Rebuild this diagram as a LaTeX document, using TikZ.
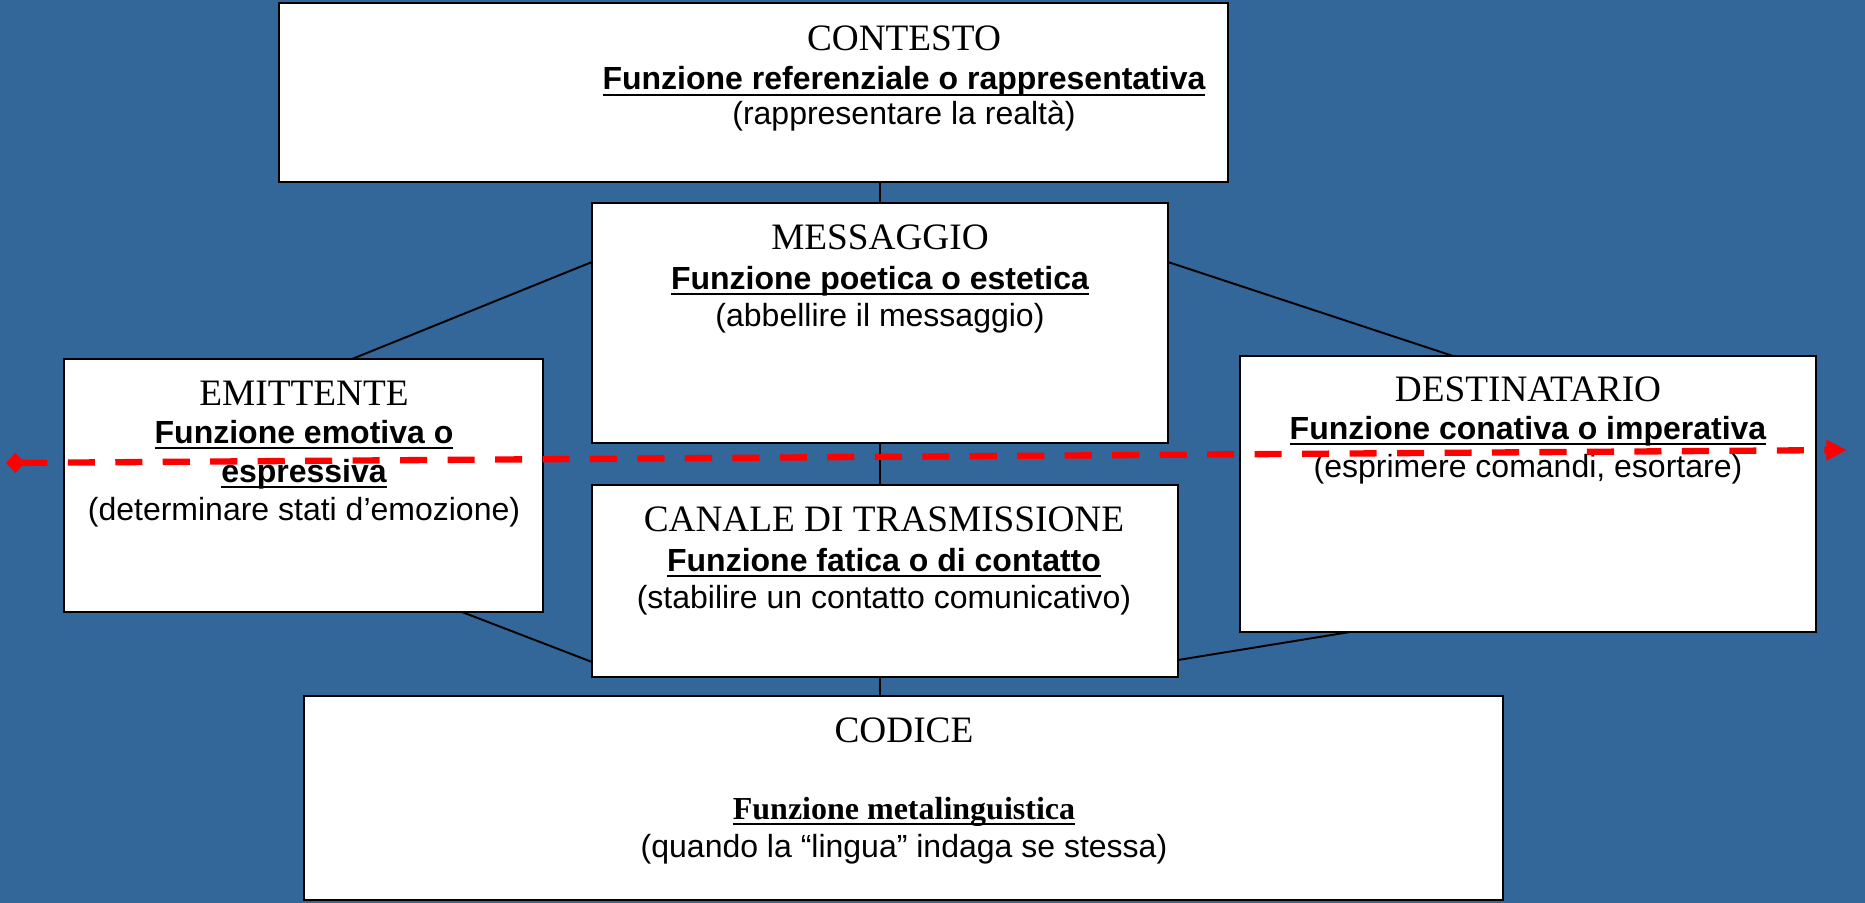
\documentclass[tikz,border=0pt]{standalone}
\usepackage{fontspec}
\setmainfont{Liberation Serif}
\setsansfont{Liberation Sans}
\usetikzlibrary{arrows.meta,calc,fit}
\definecolor{bgblue}{RGB}{51,102,153}
\definecolor{dashred}{RGB}{255,0,0}
\newcommand\myul[1]{\setbox0\hbox{#1}\rlap{\rule[-1.7pt]{\wd0}{0.55pt}}\box0}
\pgfdeclarelayer{bg}
\pgfsetlayers{bg,main}
\tikzset{
  box/.style={draw=black, line width=0.6pt, fill=white, inner sep=0pt, outer sep=0pt},
  ttl/.style={font=\fontsize{10.6}{12}\selectfont, anchor=base, inner sep=0pt},
  fn/.style={font=\sffamily\bfseries\fontsize{9.1}{11}\selectfont, anchor=base, inner sep=0pt},
  fnserif/.style={font=\rmfamily\bfseries\fontsize{9.1}{11}\selectfont, anchor=base, inner sep=0pt},
  desc/.style={font=\sffamily\fontsize{9.1}{11}\selectfont, anchor=base, inner sep=0pt},
  link/.style={draw=black, line width=0.55pt},
  redline/.style={draw=dashred, line width=1.8pt, dash pattern=on 7.7pt off 5.8pt,
    {Diamond[length=5.3pt,width=5.7pt]}-{Triangle[length=5.85pt,width=5.5pt]}}
}
\begin{document}
\begin{tikzpicture}[x=0.01cm,y=-0.01cm]
\path[use as bounding box] (0,0) rectangle (1865,903);
% boxes
\node[box, fit={(279,3) (1228,182)}] (cont) {};
\node[box, fit={(592,203) (1168,443)}] (msg) {};
\node[box, fit={(592,485) (1178,677)}] (can) {};
\node[box, fit={(64,359) (543,612)}] (emit) {};
\node[box, fit={(1240,356) (1816,632)}] (dest) {};
\node[box, fit={(304,696) (1503,900)}] (cod) {};
% texts
\node[ttl] (contT) at (904,51) {CONTESTO};
\node[fn] (contF) at (904,90) {\myul{Funzione referenziale o rappresentativa}};
\node[desc] (contD) at (904,124) {(rappresentare la realtà)};
\node[ttl] (msgT) at (880,249) {MESSAGGIO};
\node[fn] (msgF) at (880,289) {\myul{Funzione poetica o estetica}};
\node[desc] (msgD) at (880,326) {(abbellire il messaggio)};
\node[ttl] (canT) at (884,531) {CANALE DI TRASMISSIONE};
\node[fn] (canF) at (884,571) {\myul{Funzione fatica o di contatto}};
\node[desc] (canD) at (884,608) {(stabilire un contatto comunicativo)};
\node[ttl] (emitT) at (304,405) {EMITTENTE};
\node[fn] (emitF) at (304,443) {\myul{Funzione emotiva o}};
\node[fn] (emitG) at (304,482) {\myul{espressiva}};
\node[desc] (emitD) at (304,520) {(determinare stati d’emozione)};
\node[ttl] (destT) at (1528,401) {DESTINATARIO};
\node[fn] (destF) at (1528,439) {\myul{Funzione conativa o imperativa}};
\node[desc] (destD) at (1528,477) {(esprimere comandi, esortare)};
\node[ttl] (codT) at (904,742) {CODICE};
\node[fnserif] (codF) at (904,819) {\myul{Funzione metalinguistica}};
\node[desc] (codD) at (904,857) {(quando la “lingua” indaga se stessa)};
% background and connectors
\begin{pgfonlayer}{bg}
\fill[bgblue] (0,0) rectangle (1865,903);
\draw[link] (msg.north |- cont.south) -- (msg.north);
\draw[link] (msg.south) -- (msg.south |- can.north);
\draw[link] (msg.south |- can.south) -- (msg.south |- cod.north);
\draw[link] ($(emit.north west)+(288,0)$) -- ($(msg.north west)+(0,59)$);
\draw[link] ($(msg.north east)+(0,59)$) -- ($(dest.north west)+(213,0)$);
\draw[link] ($(emit.south west)+(398,0)$) -- ($(can.north west)+(0,177)$);
\draw[link] ($(can.north east)+(0,175)$) -- ($(dest.south west)+(110,0)$);
\end{pgfonlayer}
% red dashed arrow
\coordinate (lend) at (6,463);
\coordinate (rend) at (1847,450);
\draw[redline] (lend) -- (rend);
\end{tikzpicture}
\end{document}
